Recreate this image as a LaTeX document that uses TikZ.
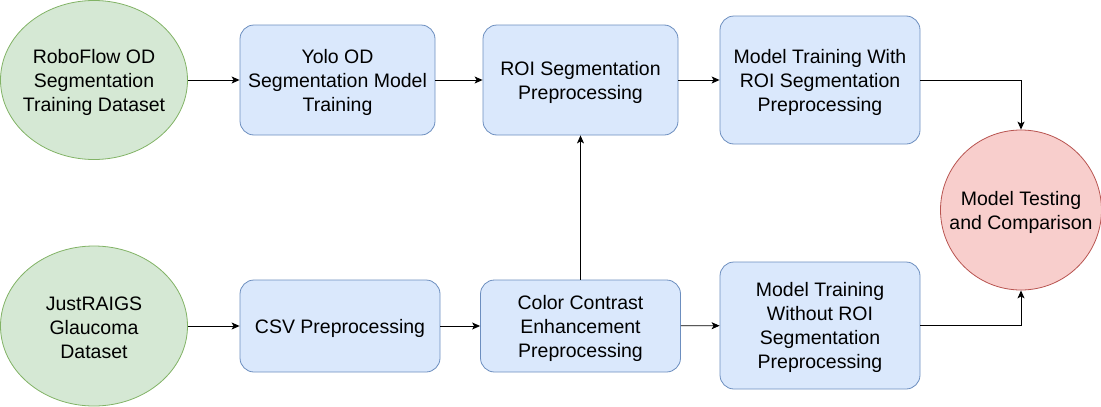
\documentclass[tikz,border=0pt]{standalone}
\usepackage{fontspec}
\setmainfont{Liberation Sans}
\usetikzlibrary{shapes.geometric,arrows.meta}
\definecolor{gfill}{HTML}{D5E8D4}\definecolor{gdraw}{HTML}{82B366}
\definecolor{bfill}{HTML}{DAE8FC}\definecolor{bdraw}{HTML}{6C8EBF}
\definecolor{rfill}{HTML}{F8CECC}\definecolor{rdraw}{HTML}{B85450}
\tikzset{
  base/.style={align=center,inner sep=0pt,line width=0.8pt,font=\fontsize{19.5}{24}\selectfont},
  txt/.style={base,yshift=-2pt},
  gell/.style={base,ellipse,fill=gfill,draw=gdraw},
  rell/.style={base,ellipse,fill=rfill,draw=rdraw},
  bbox/.style={base,rectangle,rounded corners=14pt,fill=bfill,draw=bdraw},
  conn/.style={line width=0.9pt,-{Stealth[length=8pt,width=7pt,inset=2pt]}}
}
\begin{document}
\begin{tikzpicture}[x=1pt,y=-1pt]
\useasboundingbox (0,0) rectangle (1101,407);
\node[gell,minimum width=187pt,minimum height=159pt] (e1) at (94,80) {};
\node[txt] (e1t) at (e1) {RoboFlow OD\\Segmentation\\Training Dataset};
\node[gell,minimum width=187pt,minimum height=160pt] (e2) at (94,326) {};
\node[txt] (e2t) at (e2) {JustRAIGS\\Glaucoma\\ Dataset};
\node[bbox,minimum width=195pt,minimum height=110pt] (yolo) at (337.5,80) {};
\node[txt] (yolot) at (yolo) {Yolo OD\\Segmentation Model\\Training};
\node[bbox,minimum width=195pt,minimum height=110pt] (roi) at (580.5,80) {};
\node[txt] (roit) at (roi) {ROI Segmentation\\Preprocessing};
\node[bbox,minimum width=200pt,minimum height=128pt] (with) at (820,80) {};
\node[txt] (witht) at (with) {Model Training With\\ROI Segmentation\\Preprocessing};
\node[rell,minimum width=161pt,minimum height=160pt] (test) at (1021,210) {};
\node[txt] (testt) at (test) {Model Testing\\and Comparison};
\node[bbox,minimum width=200pt,minimum height=92pt] (csv) at (340,326) {};
\node[txt] (csvt) at (csv) {CSV Preprocessing};
\node[bbox,minimum width=200pt,minimum height=92pt] (color) at (580.5,326) {};
\node[txt] (colort) at (color) {Color Contrast\\Enhancement\\Preprocessing};
\node[bbox,minimum width=200pt,minimum height=127pt] (without) at (820,325.5) {};
\node[txt] (withoutt) at (without) {Model Training\\Without ROI\\Segmentation\\Preprocessing};
\draw[conn] (e1) -- (yolo);
\draw[conn] (yolo) -- (roi);
\draw[conn] (roi) -- (with);
\draw[conn] (with.east) -| (test.north);
\draw[conn] (e2) -- (csv);
\draw[conn] (csv) -- (color);
\draw[conn] (color) -- (without);
\draw[conn] (without.east) -| (test.south);
\draw[conn] (color.north) -- (roi.south);
\end{tikzpicture}
\end{document}
